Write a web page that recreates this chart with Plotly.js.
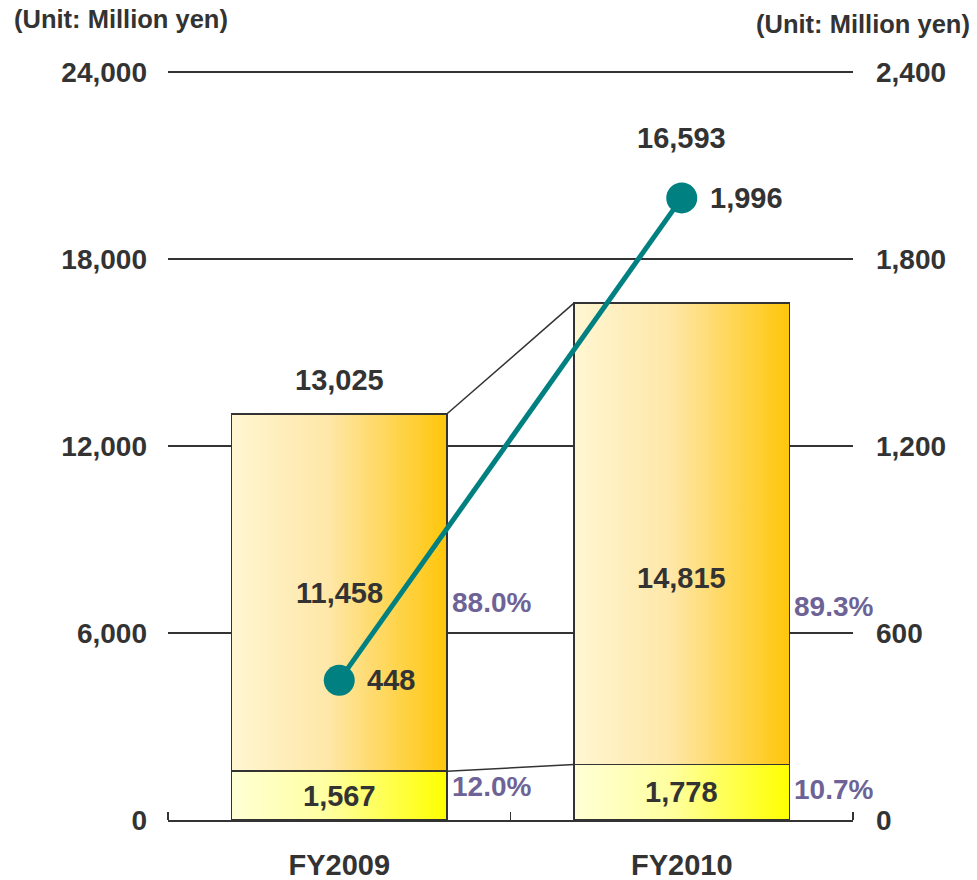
<!DOCTYPE html>
<html>
<head>
<meta charset="utf-8">
<script src="https://cdn.plot.ly/plotly-3.0.1.min.js"></script>
<style>
  html, body { margin: 0; padding: 0; background: #ffffff; }
  #chart { width: 977px; height: 880px; }
</style>
</head>
<body>
<div id="chart"></div>
<script>
// ---------------- DATA ----------------
const categories = ['FY2009', 'FY2010'];
const lowerValues = [1567, 1778];      // lower stacked segment (left axis)
const upperValues = [11458, 14815];    // upper stacked segment (left axis)
const lineValues = [448, 1996];        // line series (right axis)
const leftTickVals = [0, 6000, 12000, 18000, 24000];
const rightTickVals = [0, 600, 1200, 1800, 2400];
const unitLabel = '(Unit: Million yen)';

// ---------------- STYLE / POSITIONS ----------------
const FONT = 'Liberation Sans, Arial, Helvetica, sans-serif';
const TXT = '#333333';
const PCT = '#6E6396';
const TEAL = '#008080';
const BAR_W = 0.628;
const RANGE_PAD = 1.004;               // small headroom so the top gridline is drawn
const totalLabelY = [14118, 21882];    // vertical placement of total labels (left-axis units)
const upperLabelY = [7296, 7765];      // placement of upper segment labels
const upperPctY = [6963, 6866];
const lowerPctY = [1059, 963];

const idx = categories.map((c, i) => i);
const totals = lowerValues.map((v, i) => v + upperValues[i]);
const fmt = v => v.toLocaleString('en-US');

const traces = [];
traces.push({
  type: 'bar', x: idx, y: lowerValues, width: BAR_W,
  marker: { color: '#FFFF80', line: { color: TXT, width: 1.5 } },
  hoverinfo: 'skip', showlegend: false
});
traces.push({
  type: 'bar', x: idx, y: upperValues, width: BAR_W,
  marker: { color: '#FFD860', line: { color: TXT, width: 1.5 } },
  hoverinfo: 'skip', showlegend: false
});
// connector lines between bars
for (let i = 0; i < idx.length - 1; i++) {
  const xs = [idx[i] + BAR_W / 2, idx[i + 1] - BAR_W / 2];
  traces.push({ type: 'scatter', mode: 'lines', x: xs, y: [totals[i], totals[i + 1]],
    line: { color: TXT, width: 1.5 }, hoverinfo: 'skip', showlegend: false });
  traces.push({ type: 'scatter', mode: 'lines', x: xs, y: [lowerValues[i], lowerValues[i + 1]],
    line: { color: TXT, width: 1.5 }, hoverinfo: 'skip', showlegend: false });
}
traces.push({
  type: 'scatter', mode: 'lines+markers', x: idx, y: lineValues, yaxis: 'y2',
  line: { color: TEAL, width: 5 }, marker: { color: TEAL, size: 31 },
  hoverinfo: 'skip', showlegend: false
});

const annotations = [];
const bigFont = { family: FONT, size: 29, color: TXT, weight: 700 };
const pctFont = { family: FONT, size: 28, color: PCT, weight: 700 };
idx.forEach(i => {
  annotations.push({ x: i, y: totalLabelY[i], xref: 'x', yref: 'y', text: fmt(totals[i]),
    showarrow: false, font: bigFont });
  annotations.push({ x: i, y: upperLabelY[i], xref: 'x', yref: 'y', text: fmt(upperValues[i]),
    showarrow: false, font: bigFont });
  annotations.push({ x: i, y: lowerValues[i] / 2, xref: 'x', yref: 'y', text: fmt(lowerValues[i]),
    showarrow: false, font: bigFont });
  annotations.push({ x: i + BAR_W / 2, y: upperPctY[i], xref: 'x', yref: 'y', xanchor: 'left', xshift: 3,
    text: (upperValues[i] / totals[i] * 100).toFixed(1) + '%', showarrow: false, font: pctFont });
  annotations.push({ x: i + BAR_W / 2, y: lowerPctY[i], xref: 'x', yref: 'y', xanchor: 'left', xshift: 3,
    text: (lowerValues[i] / totals[i] * 100).toFixed(1) + '%', showarrow: false, font: pctFont });
  annotations.push({ x: i, y: lineValues[i], xref: 'x', yref: 'y2', xanchor: 'left', xshift: 26,
    text: fmt(lineValues[i]), showarrow: false, font: bigFont });
});
const unitFont = { family: FONT, size: 25.5, color: TXT, weight: 700 };
annotations.push({ x: -0.2277, y: 1.0668, xref: 'paper', yref: 'paper', xanchor: 'left', yanchor: 'middle',
  text: unitLabel, showarrow: false, font: unitFont });
annotations.push({ x: 1.1737, y: 1.0602, xref: 'paper', yref: 'paper', xanchor: 'right', yanchor: 'middle',
  text: unitLabel, showarrow: false, font: unitFont });

const tickFont = { family: FONT, size: 28, color: TXT, weight: 700 };
const leftMax = leftTickVals[leftTickVals.length - 1];
const rightMax = rightTickVals[rightTickVals.length - 1];
const layout = {
  width: 977, height: 880,
  margin: { l: 168, r: 124, t: 69, b: 60, pad: 0 },
  paper_bgcolor: '#ffffff', plot_bgcolor: 'rgba(0,0,0,0)',
  barmode: 'stack',
  showlegend: false,
  separators: '.,',
  xaxis: {
    range: [-0.5, idx.length - 0.5], tickmode: 'array', tickvals: idx, ticktext: categories,
    ticks: '', showgrid: false, zeroline: false,
    showline: true, linecolor: TXT, linewidth: 1.5,
    tickfont: { family: FONT, size: 29, color: TXT, weight: 700 },
    ticklabelstandoff: 19,
    minor: { tickmode: 'linear', tick0: 0.5, dtick: 1, ticks: 'inside', ticklen: 8, tickcolor: TXT, tickwidth: 1.5, showgrid: false }
  },
  yaxis: {
    range: [0, leftMax * RANGE_PAD], tickmode: 'array', tickvals: leftTickVals, tickformat: ',d',
    showgrid: true, gridcolor: TXT, gridwidth: 1.5, zeroline: false, showline: false,
    ticks: '', tickfont: tickFont, ticklabelstandoff: 20
  },
  yaxis2: {
    range: [0, rightMax * RANGE_PAD], overlaying: 'y', side: 'right', tickmode: 'array', tickvals: rightTickVals,
    tickformat: ',d', showgrid: false, zeroline: false, showline: false,
    ticks: '', tickfont: tickFont, ticklabelstandoff: 22
  },
  annotations: annotations
};

Plotly.newPlot('chart', traces, layout, { staticPlot: true, displayModeBar: false }).then(gd => {
  const svgNS = 'http://www.w3.org/2000/svg';
  const svg = gd.querySelector('svg.main-svg');
  let defs = svg.querySelector('defs');
  if (!defs) { defs = document.createElementNS(svgNS, 'defs'); svg.insertBefore(defs, svg.firstChild); }
  function addGrad(id, c1, c2, c3) {
    const g = document.createElementNS(svgNS, 'linearGradient');
    g.setAttribute('id', id);
    g.setAttribute('x1', '0'); g.setAttribute('y1', '0');
    g.setAttribute('x2', '1'); g.setAttribute('y2', '0');
    [[0, c1], [0.45, c2], [1, c3]].forEach(([o, c]) => {
      const s = document.createElementNS(svgNS, 'stop');
      s.setAttribute('offset', o); s.setAttribute('stop-color', c);
      g.appendChild(s);
    });
    defs.appendChild(g);
  }
  addGrad('gradLower', '#FFFFD6', '#FFFFA0', '#FFFF00');
  addGrad('gradUpper', '#FFF6D2', '#FEE7A8', '#FFC60A');
  const barTraces = gd.querySelectorAll('.barlayer .trace');
  const grads = ['gradLower', 'gradUpper'];
  barTraces.forEach((t, k) => {
    t.querySelectorAll('.point path').forEach(p => { p.style.fill = 'url(#' + grads[k] + ')'; });
  });
});
</script>
</body>
</html>
